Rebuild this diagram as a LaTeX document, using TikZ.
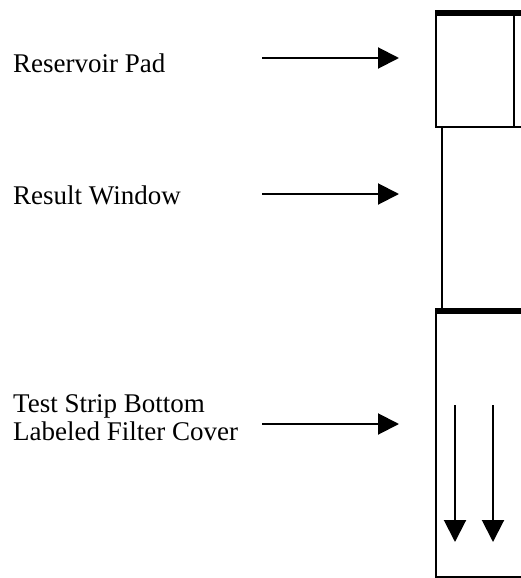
\documentclass[tikz,border=0pt]{standalone}
\usepackage{fontspec}
\setmainfont{Liberation Serif}
\usetikzlibrary{arrows.meta}
\begin{document}
\begin{tikzpicture}[x=1pt,y=-1pt,
  lbl/.style={anchor=base west,inner sep=0pt,font=\fontsize{27}{28}\selectfont,align=left},
  ptr/.style={line width=2pt,-{Triangle[length=21pt,width=21pt]}},
  flow/.style={line width=2pt,-{Triangle[length=22pt,width=22pt]}},
  thin/.style={line width=2.4pt},
  thick/.style={line width=6pt}]
\useasboundingbox (0,0) rectangle (521,578);
% labels
\node[lbl] (res) at (13,72) {Reservoir Pad};
\node[lbl] (win) at (13,204) {Result Window};
\node[lbl,anchor=north west] (tsb) at (13,394) {Test Strip Bottom\\Labeled Filter Cover};
% arrow coordinates
\coordinate (a1s) at (262,58);  \coordinate (a1e) at (399,58);
\coordinate (a2s) at (262,194); \coordinate (a2e) at (399,194);
\coordinate (a3s) at (262,424); \coordinate (a3e) at (399,424);
\draw[ptr] (a1s) -- (a1e);
\draw[ptr] (a2s) -- (a2e);
\draw[ptr] (a3s) -- (a3e);
% strip geometry
\coordinate (padtl) at (436,13);
\coordinate (padbl) at (436,127);
\coordinate (padbr) at (521,127);
\coordinate (padin) at (514,13);
\coordinate (padinb) at (514,127);
\coordinate (wintop) at (442,127);
\coordinate (winbot) at (442,310);
\coordinate (bottl) at (436,310);
\coordinate (botbl) at (436,577);
\coordinate (botbr) at (521,577);
\draw[thin] (padtl) -- (padbl) -- (padbr);
\draw[thin] (padin) -- (padinb);
\draw[thin] (wintop) -- (winbot);
\draw[thin] (bottl) -- (botbl) -- (botbr);
\draw[thick] (435,13) -- (521,13);
\draw[thick] (435,310.5) -- (521,310.5);
% flow arrows
\coordinate (f1s) at (455,405); \coordinate (f1e) at (455,542);
\coordinate (f2s) at (493,405); \coordinate (f2e) at (493,542);
\draw[flow] (f1s) -- (f1e);
\draw[flow] (f2s) -- (f2e);
\end{tikzpicture}
\end{document}
